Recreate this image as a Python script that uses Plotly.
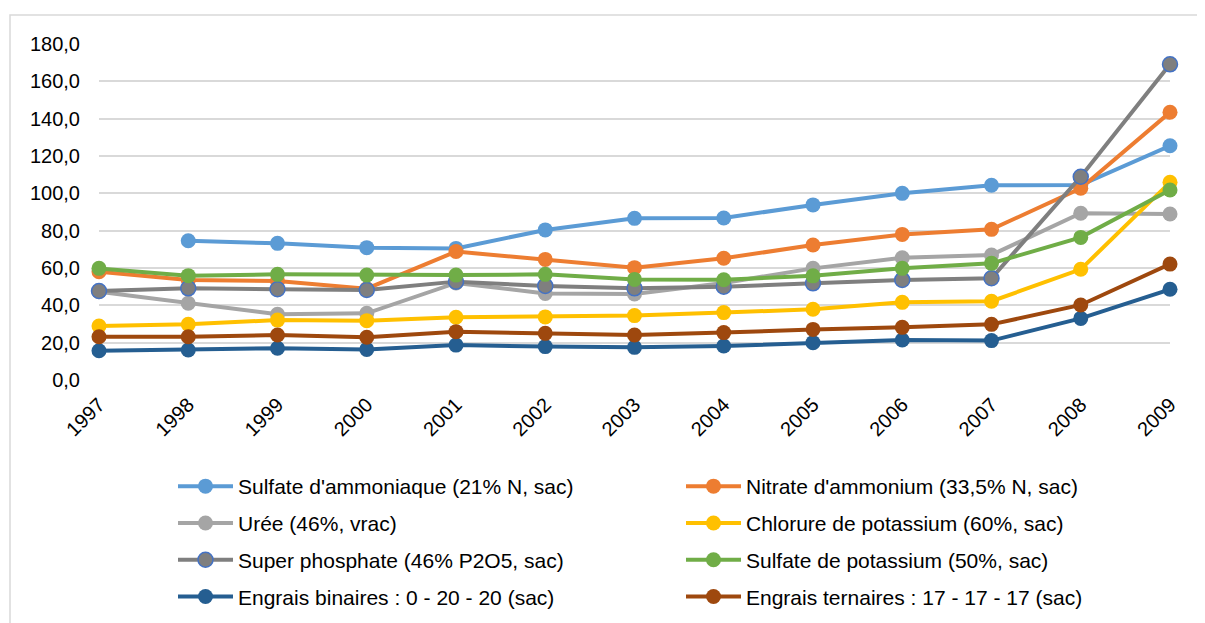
import plotly.graph_objects as go

years = list(range(1997, 2010))
year_labels = [str(y) for y in years]

sulfate_ammoniaque = [None, 74.6, 73.2, 70.9, 70.5, 80.4, 86.6, 86.8, 93.8, 100.0, 104.3, 104.4, 125.5]
nitrate_ammonium = [58.0, 53.6, 53.0, 48.9, 68.8, 64.6, 60.2, 65.2, 72.3, 78.0, 80.7, 102.7, 143.4]
uree = [47.3, 41.1, 35.2, 35.7, 52.0, 46.4, 46.1, 52.0, 59.8, 65.5, 67.0, 89.3, 88.9]
chlorure_potassium = [28.9, 29.8, 32.1, 31.8, 33.6, 33.8, 34.5, 36.1, 37.9, 41.6, 42.2, 59.3, 105.9]
super_phosphate = [47.7, 49.1, 48.6, 48.2, 52.7, 50.4, 49.1, 50.0, 51.8, 53.6, 54.5, 108.9, 169.1]
sulfate_potassium = [59.8, 55.9, 56.6, 56.2, 56.2, 56.6, 53.9, 53.7, 55.8, 59.8, 62.5, 76.4, 101.8]
engrais_binaires = [15.7, 16.1, 17.0, 16.4, 18.7, 17.9, 17.5, 18.2, 20.0, 21.4, 21.1, 33.0, 48.6]
engrais_ternaires = [23.2, 23.2, 24.1, 22.9, 25.9, 25.0, 24.1, 25.4, 27.1, 28.2, 29.8, 40.2, 62.1]

y_ticks = [0, 20, 40, 60, 80, 100, 120, 140, 160, 180]

series = [
    ("Sulfate d'ammoniaque (21% N, sac)", sulfate_ammoniaque, "#5B9BD5", None, "legend", "g1"),
    ("Nitrate d'ammonium (33,5% N, sac)", nitrate_ammonium, "#ED7D31", None, "legend2", "g2"),
    ("Urée (46%, vrac)", uree, "#A5A5A5", None, "legend", "g3"),
    ("Chlorure de potassium (60%, sac)", chlorure_potassium, "#FFC000", None, "legend2", "g4"),
    ("Super phosphate (46% P2O5, sac)", super_phosphate, "#7F7F7F", "#4472C4", "legend", "g5"),
    ("Sulfate de potassium (50%, sac)", sulfate_potassium, "#70AD47", None, "legend2", "g6"),
    ("Engrais binaires : 0 - 20 - 20 (sac)", engrais_binaires, "#255E91", None, "legend", "g7"),
    ("Engrais ternaires : 17 - 17 - 17 (sac)", engrais_ternaires, "#9E480E", None, "legend2", "g8"),
]

fig = go.Figure()
for name, vals, color, edge, leg, grp in series:
    marker = dict(size=15, color=color)
    if edge:
        marker["line"] = dict(color=edge, width=1.5)
    fig.add_trace(go.Scatter(
        x=years, y=vals, name=name, mode="lines+markers",
        line=dict(color=color, width=4), marker=marker,
        cliponaxis=False, legend=leg, legendgroup=grp,
    ))

font_family = "Liberation Sans, Arial, sans-serif"

# page body has an 8px default margin, so figure coordinates are offset by 8px
L, T, W, H = 91, 36, 1071, 336

def px_x(fx):
    return (fx - L) / W

def px_y(fy):
    return (T + H - fy) / H

legend_common = dict(xanchor="left", yanchor="top", orientation="v",
                     tracegroupgap=6.5, font=dict(size=21), itemwidth=55,
                     bgcolor="rgba(0,0,0,0)")

fig.update_layout(
    width=1205, height=623,
    margin=dict(l=L, r=1205 - L - W, t=T, b=623 - T - H, autoexpand=False),
    paper_bgcolor="white", plot_bgcolor="white",
    separators=", ",
    font=dict(family=font_family, size=20, color="#000000"),
    xaxis=dict(
        range=[1997, 2009], tickmode="array", tickvals=years, ticktext=year_labels,
        tickangle=-45, showgrid=False, zeroline=False, showline=False,
        ticks="", ticklabelstandoff=8, automargin=False,
        tickfont=dict(size=20, color="#000000"),
    ),
    yaxis=dict(
        range=[0, 180], tickmode="array", tickvals=y_ticks, tickformat=".1f",
        showgrid=True, gridcolor="#D9D9D9", gridwidth=1.5, zeroline=False,
        showline=False, ticks="", ticklabelstandoff=18, automargin=False,
        tickfont=dict(size=20, color="#000000"),
    ),
    legend=dict(x=px_x(165), y=px_y(458), **legend_common),
    legend2=dict(x=px_x(673), y=px_y(458), **legend_common),
    showlegend=True,
)

fig.add_shape(type="rect", xref="paper", yref="paper",
              x0=px_x(2), x1=px_x(1215),
              y0=px_y(640), y1=px_y(7),
              line=dict(color="#D9D9D9", width=1.5), fillcolor="rgba(0,0,0,0)",
              layer="below")

fig.write_html("out.html")
